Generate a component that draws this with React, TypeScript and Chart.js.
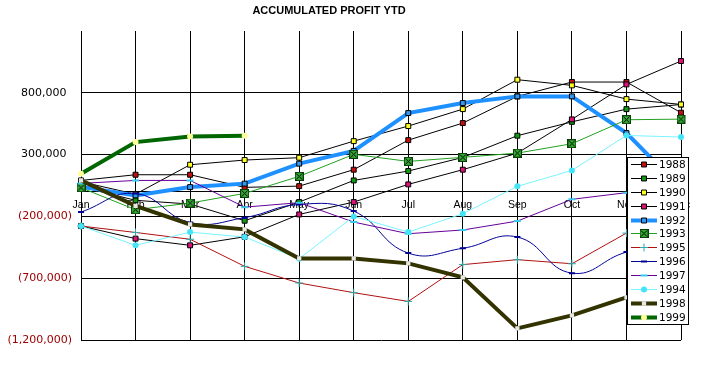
import React, { useEffect, useRef } from 'react';
import { Chart, registerables } from 'chart.js';
import { drawPoint } from 'chart.js/helpers';

Chart.register(...registerables);

const titleText = 'ACCUMULATED PROFIT YTD';
const months = ['Jan', 'Feb', 'Mar', 'Apr', 'May', 'Jun', 'Jul', 'Aug', 'Sep', 'Oct', 'Nov', 'Dec'];
const yTickValues = [-1200000, -700000, -200000, 300000, 800000];
const yMin = -1200000;
const yMax = 1300000;

const s1988 = [91000, 137000, 137000, 35000, 45000, 178000, 417000, 555000, 771000, 887000, 887000, 639000];
const s1989 = [40000, -70000, -100000, -235000, -84000, 91000, 167000, 277000, 453000, 565000, 668000, 705000];
const s1990 = [80000, -20000, 218000, 256000, 275000, 409000, 531000, 668000, 906000, 860000, 749000, 706000];
const s1991 = [-278000, -380000, -434000, -365000, -184000, -84000, 59000, 178000, 312000, 585000, 868000, 1057000];
const s1992 = [40000, -30000, 37000, 65000, 227000, 330000, 636000, 717000, 771000, 771000, 474000, 27000];
const s1993 = [32000, -146000, -92000, -14000, 124000, 302000, 245000, 278000, 312000, 388000, 582000, 587000];
const s1995 = [-278000, -330000, -385000, -604000, -739000, -817000, -888000, -590000, -550000, -583000, -335000, -250000];
const s1996 = [-165000, -15000, -250000, -210000, -103000, -157000, -497000, -458000, -367000, -659000, -489000, -420000];
const s1997 = [67000, 91000, 91000, -125000, -89000, -246000, -340000, -310000, -238000, -62000, -8000, 10000];
const s1994 = [-278000, -434000, -327000, -367000, -543000, -200000, -327000, -178000, 43000, 172000, 455000, 442000];
const s1998 = [91000, -115000, -265000, -305000, -540000, -540000, -580000, -693000, -1106000, -1001000, -855000, null];
const s1999 = [145000, 401000, 447000, 453000, null, null, null, null, null, null, null, null];

const FONT = 'DejaVu Sans';
const FONT2 = 'Liberation Sans';

function fmt(v: number): string {
  const s = Math.abs(v).toLocaleString('en-US');
  return v < 0 ? '(' + s + ')' : s + '\u2002';
}

function makeXBox(): HTMLCanvasElement {
  const c = document.createElement('canvas');
  c.width = 9;
  c.height = 9;
  const g = c.getContext('2d')!;
  g.fillStyle = '#33aa33';
  g.fillRect(0, 0, 9, 9);
  g.strokeStyle = '#0b3d0b';
  g.lineWidth = 1;
  g.strokeRect(0.5, 0.5, 8, 8);
  g.beginPath();
  g.moveTo(1.5, 1.5);
  g.lineTo(7.5, 7.5);
  g.moveTo(7.5, 1.5);
  g.lineTo(1.5, 7.5);
  g.strokeStyle = '#000';
  g.stroke();
  return c;
}

const titlePlugin = {
  id: 'xlTitle',
  afterDraw(chart: any) {
    const ctx = chart.ctx;
    ctx.save();
    ctx.font = `bold 11px "${FONT2}"`;
    ctx.fillStyle = '#000';
    ctx.textAlign = 'center';
    ctx.textBaseline = 'middle';
    ctx.fillText(titleText, 329, 11);
    ctx.restore();
  },
};

const legendPlugin = {
  id: 'xlLegend',
  afterDraw(chart: any) {
    const ctx = chart.ctx;
    const x0 = 627, y0 = 157, w = 62, h = 168;
    ctx.save();
    ctx.fillStyle = '#fff';
    ctx.fillRect(x0, y0, w, h);
    ctx.strokeStyle = '#000';
    ctx.lineWidth = 1;
    ctx.strokeRect(x0 + 0.5, y0 + 0.5, w - 1, h - 1);
    chart.data.datasets.forEach((ds: any, i: number) => {
      const y = Math.round(y0 + 7 + i * 13.88);
      ctx.strokeStyle = ds.borderColor;
      ctx.lineWidth = ds.borderWidth;
      ctx.beginPath();
      ctx.moveTo(x0 + 4, y + 0.5);
      ctx.lineTo(x0 + 30, y + 0.5);
      ctx.stroke();
      ctx.fillStyle = ds.pointBackgroundColor;
      ctx.strokeStyle = ds.pointBorderColor;
      ctx.lineWidth = ds.pointBorderWidth;
      drawPoint(ctx, {
        pointStyle: ds.pointStyle,
        radius: ds.pointRadius,
        borderWidth: ds.pointBorderWidth,
        rotation: 0,
      } as any, x0 + 17, y + 0.5);
      ctx.fillStyle = '#000';
      ctx.font = `10.5px "${FONT}"`;
      ctx.textAlign = 'left';
      ctx.textBaseline = 'middle';
      ctx.fillText(ds.label, x0 + 32, y + 1);
    });
    ctx.restore();
  },
};

export default function App() {
  const ref = useRef<HTMLCanvasElement>(null);
  useEffect(() => {
    if (!ref.current) return;
    const xbox = makeXBox();
    const mk = (label: string, data: (number | null)[], o: any) => ({
      label,
      data,
      borderWidth: 1,
      tension: 0,
      pointBorderWidth: 1,
      pointRadius: 3.5,
      pointHoverRadius: 3.5,
      spanGaps: false,
      ...o,
    });
    const defs = [
      mk('1988', s1988, { borderColor: '#000', pointStyle: 'rect', pointBackgroundColor: '#c01010', pointBorderColor: '#000' }),
      mk('1989', s1989, { borderColor: '#000', pointStyle: 'rect', pointBackgroundColor: '#119911', pointBorderColor: '#000' }),
      mk('1990', s1990, { borderColor: '#000', pointStyle: 'rect', pointBackgroundColor: '#ffff22', pointBorderColor: '#000' }),
      mk('1991', s1991, { borderColor: '#000', pointStyle: 'rect', pointBackgroundColor: '#dd1177', pointBorderColor: '#000' }),
      mk('1992', s1992, { borderColor: '#1e90ff', borderWidth: 4, pointStyle: 'rect', pointBackgroundColor: '#3399ee', pointBorderColor: '#000' }),
      mk('1993', s1993, { borderColor: '#22a022', pointStyle: xbox, pointBackgroundColor: '#33aa33', pointBorderColor: '#000' }),
      mk('1995', s1995, { borderColor: '#b01010', pointStyle: 'cross', pointRadius: 4, pointBackgroundColor: '#30aaaa', pointBorderColor: '#30aaaa' }),
      mk('1996', s1996, { borderColor: '#000099', tension: 0.45, pointStyle: 'line', pointRadius: 3, pointBorderWidth: 2, pointBackgroundColor: '#000099', pointBorderColor: '#000099' }),
      mk('1997', s1997, { borderColor: '#660099', pointStyle: 'line', pointRadius: 3.5, pointBorderWidth: 2, pointBackgroundColor: '#33ccee', pointBorderColor: '#33ccee' }),
      mk('1994', s1994, { borderColor: '#77f4ff', pointStyle: 'circle', pointRadius: 3, pointBorderWidth: 0, pointBackgroundColor: '#44e4f8', pointBorderColor: '#44e4f8' }),
      mk('1998', s1998, { borderColor: '#333300', borderWidth: 4, pointStyle: 'rect', pointRadius: 3, pointBorderWidth: 0, pointBackgroundColor: '#e8e8e8', pointBorderColor: '#e8e8e8' }),
      mk('1999', s1999, { borderColor: '#006600', borderWidth: 4, pointStyle: 'circle', pointRadius: 3, pointBorderWidth: 0, pointBackgroundColor: '#ffff99', pointBorderColor: '#ffff99' }),
    ];
    const datasets = defs.map((d, i) => ({ ...d, order: defs.length - i }));

    const chart = new Chart(ref.current, {
      type: 'line',
      data: { labels: months, datasets },
      plugins: [titlePlugin, legendPlugin],
      options: {
        responsive: false,
        animation: false,
        devicePixelRatio: 1,
        layout: { padding: { top: 31, right: 25, bottom: 28, left: 0 } },
        plugins: {
          legend: { display: false },
          title: { display: false },
          tooltip: { enabled: false },
        },
        scales: {
          x: {
            type: 'category',
            position: { y: 0 } as any,
            offset: false,
            grid: { color: '#000', lineWidth: 1, drawTicks: false, offset: false },
            border: { display: true, color: '#000', width: 1 },
            ticks: {
              color: '#000',
              font: { family: FONT2, size: 10.5 },
              padding: 7,
              maxRotation: 0,
              autoSkip: false,
            },
          },
          y: {
            type: 'linear',
            min: yMin,
            max: yMax,
            afterBuildTicks: (scale: any) => {
              scale.ticks = yTickValues.map((v) => ({ value: v }));
            },
            afterFit: (scale: any) => {
              scale.width = 81;
            },
            grid: { color: '#000', lineWidth: 1, drawTicks: false },
            border: { display: true, color: '#000', width: 1 },
            ticks: {
              padding: 9,
              font: { family: FONT, size: 11 },
              color: (c: any) => (c.tick && c.tick.value < 0 ? '#a00000' : '#000'),
              callback: (v: any) => fmt(Number(v)),
            },
          },
        },
      } as any,
    });
    return () => chart.destroy();
  }, []);
  return (
    <div style={{ position: 'absolute', left: 0, top: 0, width: 706, height: 368, background: '#fff' }}>
      <canvas ref={ref} width={706} height={368} />
    </div>
  );
}
